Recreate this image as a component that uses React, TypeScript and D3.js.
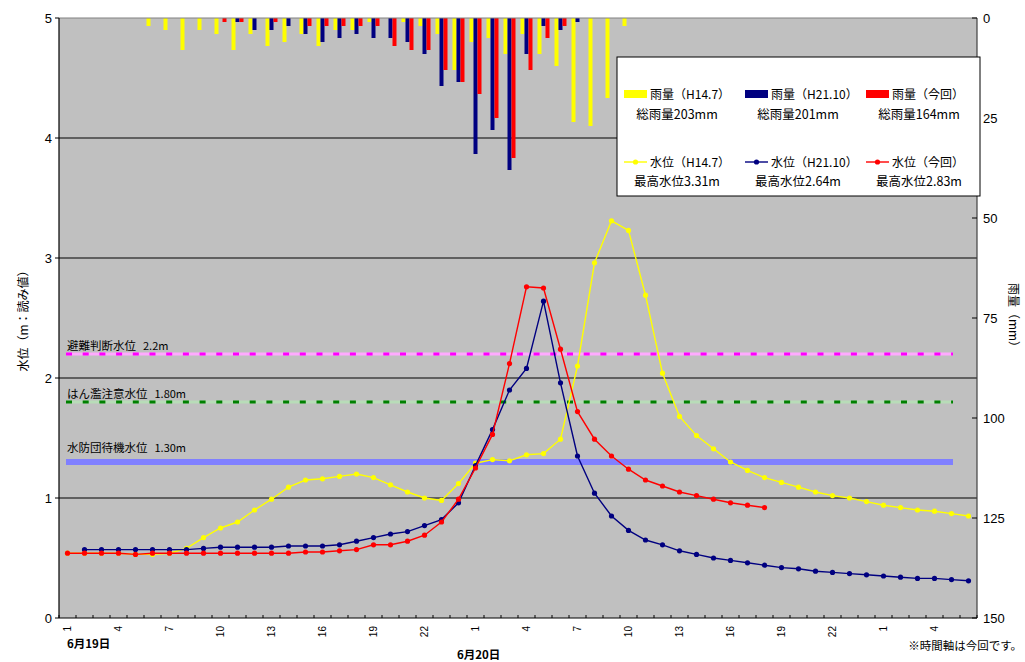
import React from "react";
import * as d3 from "d3";

// ---- data ----
const hours: number[] = [
  1, 2, 3, 4, 5, 6, 7, 8, 9, 10, 11, 12, 13, 14, 15, 16, 17, 18, 19, 20, 21, 22, 23, 24,
  1, 2, 3, 4, 5, 6, 7, 8, 9, 10, 11, 12, 13, 14, 15, 16, 17, 18, 19, 20, 21, 22, 23, 24,
  1, 2, 3, 4, 5, 6,
];

const rainH14: number[] = [
  0, 0, 0, 0, 0, 2, 3, 8, 3, 4, 8, 4, 7, 6, 4, 7, 3, 3, 1, 0, 1, 2, 4, 13, 6, 5, 9, 4, 9, 12,
  26, 27, 20, 2, 0, 0, 0, 0, 0, 0, 0, 0, 0, 0, 0, 0, 0, 0, 0, 0, 0, 0, 0, 0,
];
const rainH21: number[] = [
  0, 0, 0, 0, 0, 0, 0, 0, 0, 0, 1, 3, 3, 2, 4, 6, 5, 4, 5, 5, 6, 9, 17, 16, 34, 28, 38, 9, 2, 3,
  1, 0, 0, 0, 0, 0, 0, 0, 0, 0, 0, 0, 0, 0, 0, 0, 0, 0, 0, 0, 0, 0, 0, 0,
];
const rainNow: number[] = [
  0, 0, 0, 0, 0, 0, 0, 0, 0, 1, 1, 0, 1, 0, 2, 2, 2, 2, 2, 7, 8, 8, 13, 16, 19, 25, 35, 13, 5, 2,
  0, 0, 0, 0, 0, 0, 0, 0, 0, 0, 0, 0, 0, 0, 0, 0, 0, 0, 0, 0, 0, 0, 0, 0,
];

const levelH14: (number | null)[] = [
  0.54, 0.54, 0.54, 0.54, 0.53, 0.53, 0.54, 0.58, 0.67, 0.75, 0.8, 0.9, 0.99, 1.09, 1.15, 1.16,
  1.18, 1.2, 1.17, 1.11, 1.05, 1.0, 0.98, 1.12, 1.29, 1.32, 1.31, 1.36, 1.37, 1.49, 2.1, 2.96,
  3.31, 3.23, 2.69, 2.04, 1.68, 1.52, 1.41, 1.3, 1.23, 1.17, 1.13, 1.09, 1.05, 1.02, 1.0, 0.97,
  0.94, 0.92, 0.9, 0.89, 0.87, 0.85,
];
const levelH21: (number | null)[] = [
  null, 0.57, 0.57, 0.57, 0.57, 0.57, 0.57, 0.57, 0.58, 0.59, 0.59, 0.59, 0.59, 0.6, 0.6, 0.6,
  0.61, 0.64, 0.67, 0.7, 0.72, 0.77, 0.82, 0.96, 1.27, 1.57, 1.9, 2.08, 2.64, 1.96, 1.35, 1.04,
  0.85, 0.73, 0.65, 0.61, 0.56, 0.53, 0.5, 0.48, 0.46, 0.44, 0.42, 0.41, 0.39, 0.38, 0.37, 0.36,
  0.35, 0.34, 0.33, 0.33, 0.32, 0.31,
];
const levelNow: (number | null)[] = [
  0.54, 0.54, 0.54, 0.54, 0.53, 0.54, 0.54, 0.54, 0.54, 0.54, 0.54, 0.54, 0.54, 0.54, 0.55, 0.55,
  0.56, 0.57, 0.61, 0.61, 0.64, 0.69, 0.8, 0.99, 1.25, 1.53, 2.12, 2.76, 2.75, 2.24, 1.72, 1.49,
  1.35, 1.24, 1.15, 1.1, 1.05, 1.02, 0.99, 0.96, 0.94, 0.92, null, null, null, null, null, null,
  null, null, null, null, null, null,
];

const leftTicks: number[] = [0, 1, 2, 3, 4, 5];
const rightTicks: number[] = [0, 25, 50, 75, 100, 125, 150];

const thresholds = [
  { name: "避難判断水位", valueText: "2.2m", value: 2.2, kind: "magenta" },
  { name: "はん濫注意水位", valueText: "1.80m", value: 1.8, kind: "green" },
  { name: "水防団待機水位", valueText: "1.30m", value: 1.3, kind: "blue" },
];

const rainSeries = [
  { key: "H14", name: "雨量（H14.7）", total: "総雨量203mm", color: "#ffff00", data: rainH14 },
  { key: "H21", name: "雨量（H21.10）", total: "総雨量201mm", color: "#000080", data: rainH21 },
  { key: "Now", name: "雨量（今回）", total: "総雨量164mm", color: "#ff0000", data: rainNow },
];
const levelSeries = [
  { key: "H14", name: "水位（H14.7）", max: "最高水位3.31m", color: "#ffff00", data: levelH14 },
  { key: "H21", name: "水位（H21.10）", max: "最高水位2.64m", color: "#000080", data: levelH21 },
  { key: "Now", name: "水位（今回）", max: "最高水位2.83m", color: "#ff0000", data: levelNow },
];

const JP = "'Noto Sans CJK JP', 'Noto Sans', sans-serif";
const NUM = "'Liberation Sans', Arial, sans-serif";

export default function App() {
  const W = 1025, H = 662;
  const L = 59, R = 977, T = 18, B = 618;
  const idx = hours.map((_, i) => i);
  const x = d3.scaleBand<number>().domain(idx).range([L, R]).paddingInner(0).paddingOuter(0);
  const bw = x.bandwidth();
  const cx = (i: number) => (x(i) as number) + bw / 2;
  const yL = d3.scaleLinear().domain([0, 5]).range([B, T]);
  const yR = d3.scaleLinear().domain([0, 150]).range([T, B]);
  const sub = d3.scaleBand<string>().domain(["H14", "H21", "Now"]).range([bw / 2 - 6, bw / 2 + 6]);

  const lineGen = d3
    .line<number | null>()
    .defined((d) => d !== null)
    .x((_, i) => cx(i))
    .y((d) => yL(d as number));

  const thrX0 = cx(0) - 1.5;
  const thrX1 = cx(52) + 1.5;

  return (
    <div style={{ position: "fixed", left: 0, top: 0, width: W, height: H, background: "#fff" }}>
      <svg width={W} height={H} style={{ display: "block" }}>
        {/* plot background */}
        <rect x={L} y={T} width={R - L} height={B - T} fill="#c0c0c0" />
        {/* gridlines */}
        {leftTicks
          .filter((t) => t > 0 && t < 5)
          .map((t) => (
            <line key={"g" + t} x1={L} x2={R} y1={yL(t)} y2={yL(t)} stroke="#000" strokeWidth={1} />
          ))}
        {/* rain bars */}
        {rainSeries.map((s) =>
          s.data.map((v, i) =>
            v > 0 ? (
              <rect
                key={s.key + i}
                x={(x(i) as number) + (sub(s.key) as number)}
                y={yR(0)}
                width={sub.bandwidth()}
                height={yR(v) - yR(0)}
                fill={s.color}
              />
            ) : null
          )
        )}
        {/* thresholds */}
        {thresholds.map((t) => {
          const y = yL(t.value);
          if (t.kind === "blue") {
            return (
              <line key={t.kind} x1={thrX0} x2={thrX1} y1={y} y2={y} stroke="#8080ff" strokeWidth={6} />
            );
          }
          const bg = t.kind === "magenta" ? "#ffaaff" : "#b8dcb8";
          const fg = t.kind === "magenta" ? "#ff00ff" : "#008000";
          return (
            <g key={t.kind}>
              <line x1={thrX0} x2={thrX1} y1={y} y2={y} stroke={bg} strokeWidth={3} />
              <line x1={thrX0} x2={thrX1} y1={y} y2={y} stroke={fg} strokeWidth={3} strokeDasharray="6 10.7" />
            </g>
          );
        })}
        {thresholds.map((t) => (
          <text
            key={"tl" + t.kind}
            x={67}
            y={yL(t.value) - (t.kind === "blue" ? 10 : 4)}
            fontFamily={JP}
            fontSize={11.5}
            fill="#000"
          >
            {t.name}
            <tspan dx={7} fontSize={11}>
              {t.valueText}
            </tspan>
          </text>
        ))}
        {/* water level lines */}
        {levelSeries.map((s) => (
          <g key={"l" + s.key}>
            <path d={lineGen(s.data) || ""} fill="none" stroke={s.color} strokeWidth={1.4} />
            {s.data.map((v, i) =>
              v !== null ? <circle key={i} cx={cx(i)} cy={yL(v)} r={2.6} fill={s.color} /> : null
            )}
          </g>
        ))}
        {/* frame */}
        <line x1={L} x2={R} y1={T} y2={T} stroke="#808080" strokeWidth={1} />
        <line x1={R} x2={R} y1={T} y2={B} stroke="#404040" strokeWidth={1.2} />
        <line x1={L} x2={L} y1={T} y2={B} stroke="#000" strokeWidth={1.2} />
        <line x1={L} x2={R} y1={B} y2={B} stroke="#000" strokeWidth={1.2} />
        {/* bottom ticks */}
        {idx.concat([idx.length]).map((i) => {
          const xx = L + i * bw;
          return <line key={"bt" + i} x1={xx} x2={xx} y1={B} y2={B - 3} stroke="#000" />;
        })}
        {/* left axis */}
        {leftTicks.map((t) => (
          <g key={"la" + t}>
            <line x1={L - 4} x2={L} y1={yL(t)} y2={yL(t)} stroke="#000" />
            <text x={52} y={yL(t)} dy="0.35em" textAnchor="end" fontFamily={NUM} fontSize={13} fill="#000">
              {t}
            </text>
          </g>
        ))}
        {/* right axis */}
        {rightTicks.map((t) => (
          <g key={"ra" + t}>
            <line x1={R - 5} x2={R} y1={yR(t)} y2={yR(t)} stroke="#000" />
            <text x={983} y={yR(t)} dy="0.35em" textAnchor="start" fontFamily={NUM} fontSize={13} fill="#000">
              {t}
            </text>
          </g>
        ))}
        {/* x tick labels */}
        {hours.map((h, i) =>
          i % 3 === 0 ? (
            <text
              key={"xl" + i}
              transform={`translate(${cx(i)},${626}) rotate(-90)`}
              textAnchor="end"
              dy="0.35em"
              fontFamily={NUM}
              fontSize={10}
              fill="#000"
            >
              {h}
            </text>
          ) : null
        )}
        <text x={67} y={648} fontFamily={JP} fontSize={11.5} fontWeight={600} fill="#000">
          6月19日
        </text>
        <text x={457} y={659} fontFamily={JP} fontSize={11.5} fontWeight={600} fill="#000">
          6月20日
        </text>
        <text x={1022} y={650} textAnchor="end" fontFamily={JP} fontSize={11.5} fill="#000">
          ※時間軸は今回です。
        </text>
        {/* axis titles */}
        <text
          transform={`translate(28,318) rotate(-90)`}
          textAnchor="middle"
          fontFamily={JP}
          fontSize={12}
          fill="#000"
        >
          水位（m：読み値）
        </text>
        <text
          transform={`translate(1009,318) rotate(90)`}
          textAnchor="middle"
          fontFamily={JP}
          fontSize={12}
          fill="#000"
        >
          雨量（mm）
        </text>
        {/* legend */}
        <rect x={617} y={57} width={363} height={139} fill="#fff" stroke="#000" strokeWidth={1} />
        {rainSeries.map((s, j) => {
          const x0 = 624 + j * 121;
          return (
            <g key={"lr" + s.key}>
              <rect x={x0} y={90} width={23} height={8} fill={s.color} />
              <text x={x0 + 26} y={99} fontFamily={JP} fontSize={12} fill="#000">
                {s.name}
              </text>
              <text x={x0 + 53} y={119} textAnchor="middle" fontFamily={JP} fontSize={12.5} fill="#000">
                {s.total}
              </text>
            </g>
          );
        })}
        {levelSeries.map((s, j) => {
          const x0 = 624 + j * 121;
          return (
            <g key={"ll" + s.key}>
              <line x1={x0} x2={x0 + 23} y1={162} y2={162} stroke={s.color} strokeWidth={1.4} />
              <circle cx={x0 + 11.5} cy={162} r={2.6} fill={s.color} />
              <text x={x0 + 26} y={167} fontFamily={JP} fontSize={12} fill="#000">
                {s.name}
              </text>
              <text x={x0 + 53} y={186} textAnchor="middle" fontFamily={JP} fontSize={12.5} fill="#000">
                {s.max}
              </text>
            </g>
          );
        })}
      </svg>
    </div>
  );
}
